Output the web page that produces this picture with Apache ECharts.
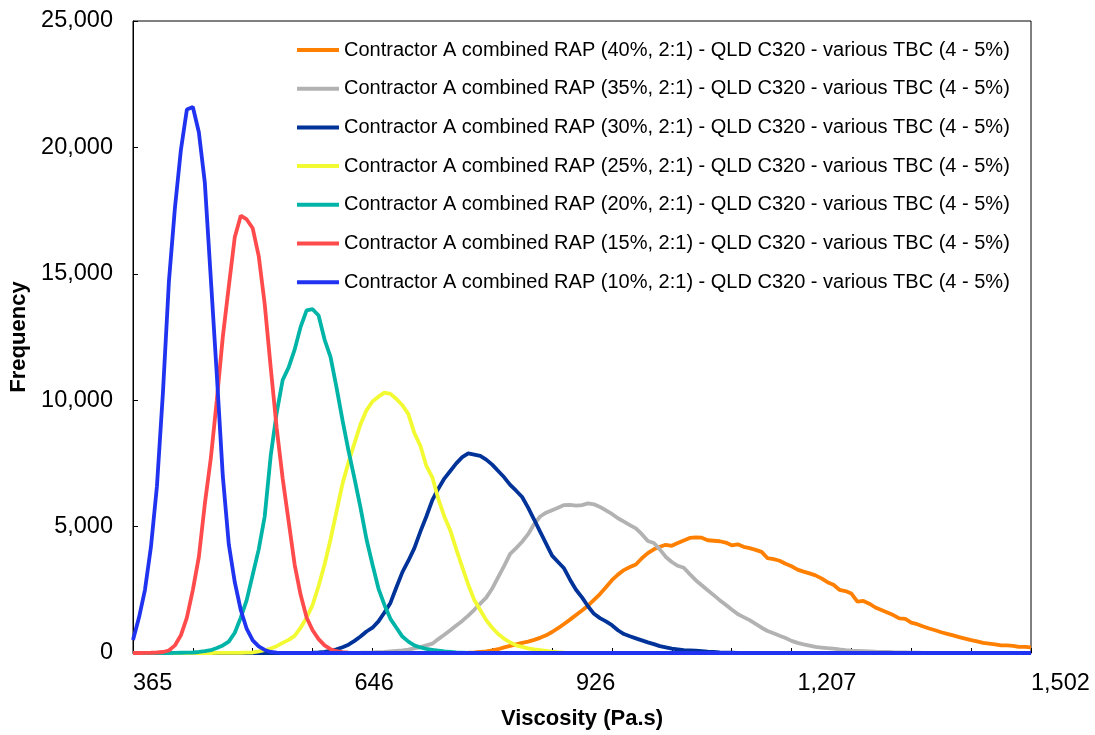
<!DOCTYPE html>
<html>
<head>
<meta charset="utf-8">
<script src="https://cdn.jsdelivr.net/npm/echarts@6/dist/echarts.min.js"></script>
<style>
html,body{margin:0;padding:0;background:#fff;}
#chart{width:1095px;height:735px;}
</style>
</head>
<body>
<div id="chart"></div>
<script>
// X axis: 151 viscosity bins from 365 to 1502 Pa.s
var binCount = 151;
var viscosityMin = 365;
var viscosityMax = 1502;
var tickIndex = [0, 37, 74, 111, 150];
var tickLabels = ['365', '646', '926', '1,207', '1,502'];
var categories = [];
for (var k = 0; k < binCount; k++) {
  categories.push(Math.round(viscosityMin + k * (viscosityMax - viscosityMin) / (binCount - 1)));
}

var seriesNames = [
  'Contractor A combined RAP (40%, 2:1) - QLD C320 - various TBC (4 - 5%)',
  'Contractor A combined RAP (35%, 2:1) - QLD C320 - various TBC (4 - 5%)',
  'Contractor A combined RAP (30%, 2:1) - QLD C320 - various TBC (4 - 5%)',
  'Contractor A combined RAP (25%, 2:1) - QLD C320 - various TBC (4 - 5%)',
  'Contractor A combined RAP (20%, 2:1) - QLD C320 - various TBC (4 - 5%)',
  'Contractor A combined RAP (15%, 2:1) - QLD C320 - various TBC (4 - 5%)',
  'Contractor A combined RAP (10%, 2:1) - QLD C320 - various TBC (4 - 5%)'
];
var seriesColors = ['#FF8000', '#B2B2B2', '#003399', '#F2FA32', '#00B4A8', '#FF4B4B', '#1F33F0'];

var rap40 = [
0,0,0,0,0,0,0,0,0,0,
0,0,0,0,0,0,0,0,0,0,
0,0,0,0,0,0,0,0,0,0,
0,0,0,0,0,0,0,0,0,0,
0,0,0,0,0,0,0,0,0,0,
0,0,0,0,0,5,10,20,40,60,
100,150,220,280,340,400,450,520,600,700,
830,980,1150,1320,1500,1680,1870,2100,2330,2600,
2880,3100,3280,3400,3500,3750,3950,4100,4200,4280,
4240,4350,4450,4550,4570,4560,4460,4440,4420,4370,
4260,4300,4200,4150,4080,4000,3750,3710,3650,3530,
3430,3300,3220,3150,3070,2950,2800,2700,2500,2450,
2350,2030,2060,1950,1800,1700,1600,1500,1370,1350,
1200,1140,1050,970,900,820,760,700,630,570,
510,460,400,370,340,300,300,280,240,240,
220];

var rap35 = [
0,0,0,0,0,0,0,0,0,0,
0,0,0,0,0,0,0,0,0,0,
0,0,0,0,0,0,0,0,0,0,
0,0,0,0,0,2,4,6,10,15,
20,30,40,60,80,100,130,180,230,300,
370,550,720,900,1090,1270,1480,1710,1950,2190,
2550,3000,3450,3920,4150,4400,4700,5100,5400,5550,
5650,5750,5850,5860,5830,5850,5920,5880,5780,5640,
5500,5330,5200,5060,4930,4700,4430,4350,4100,3800,
3600,3450,3370,3120,2880,2680,2480,2290,2090,1910,
1720,1540,1420,1300,1150,1000,870,780,680,590,
480,400,340,290,240,215,190,175,140,110,
90,80,70,60,50,45,40,30,25,20,
15,10,5,0,0,0,0,0,0,0,
0,0,0,0,0,0,0,0,0,0,
0];

var rap30 = [
0,0,0,0,0,0,0,0,0,0,
0,0,0,0,0,0,0,0,0,0,
0,0,0,0,0,0,2,3,5,8,
10,20,40,80,150,230,330,480,650,850,
1000,1250,1600,1980,2600,3200,3650,4150,4800,5400,
6050,6500,6900,7200,7500,7750,7900,7850,7800,7650,
7450,7200,6950,6650,6420,6170,5750,5280,4800,4330,
3850,3600,3350,2900,2500,2200,1850,1550,1380,1250,
1100,900,750,660,580,500,420,350,270,220,
170,140,110,100,90,70,50,40,25,15,
10,0,0,0,0,0,0,0,0,0,
0,0,0,0,0,0,0,0,0,0,
0,0,0,0,0,0,0,0,0,0,
0,0,0,0,0,0,0,0,0,0,
0,0,0,0,0,0,0,0,0,0,
0];

var rap25 = [
0,0,0,0,0,0,0,0,0,0,
0,0,0,0,2,4,6,8,10,15,
20,60,110,180,270,400,520,680,1000,1400,
1900,2650,3500,4500,5600,6700,7550,8300,9050,9600,
9950,10140,10300,10250,10050,9800,9450,8700,8200,7400,
6950,6100,5400,4850,4100,3400,2700,2100,1700,1300,
1000,750,560,420,300,240,180,140,110,80,
50,30,15,5,0,0,0,0,0,0,
0,0,0,0,0,0,0,0,0,0,
0,0,0,0,0,0,0,0,0,0,
0,0,0,0,0,0,0,0,0,0,
0,0,0,0,0,0,0,0,0,0,
0,0,0,0,0,0,0,0,0,0,
0,0,0,0,0,0,0,0,0,0,
0,0,0,0,0,0,0,0,0,0,
0];

var rap20 = [
0,0,0,0,0,0,0,5,10,15,
20,40,70,110,200,300,450,800,1400,2100,
3100,4100,5400,7800,9500,10800,11300,12000,12900,13550,
13600,13350,12400,11700,10500,9200,8000,6900,5750,4500,
3500,2550,1900,1350,1000,650,450,300,220,160,
120,90,60,40,20,10,0,0,0,0,
0,0,0,0,0,0,0,0,0,0,
0,0,0,0,0,0,0,0,0,0,
0,0,0,0,0,0,0,0,0,0,
0,0,0,0,0,0,0,0,0,0,
0,0,0,0,0,0,0,0,0,0,
0,0,0,0,0,0,0,0,0,0,
0,0,0,0,0,0,0,0,0,0,
0,0,0,0,0,0,0,0,0,0,
0,0,0,0,0,0,0,0,0,0,
0];

var rap15 = [
0,0,5,10,20,40,100,300,700,1400,
2500,3800,5900,7700,10000,12500,14500,16450,17300,17150,
16800,15700,13800,11300,8900,6900,5200,3500,2300,1400,
900,550,300,150,70,30,10,0,0,0,
0,0,0,0,0,0,0,0,0,0,
0,0,0,0,0,0,0,0,0,0,
0,0,0,0,0,0,0,0,0,0,
0,0,0,0,0,0,0,0,0,0,
0,0,0,0,0,0,0,0,0,0,
0,0,0,0,0,0,0,0,0,0,
0,0,0,0,0,0,0,0,0,0,
0,0,0,0,0,0,0,0,0,0,
0,0,0,0,0,0,0,0,0,0,
0,0,0,0,0,0,0,0,0,0,
0,0,0,0,0,0,0,0,0,0,
0];

var rap10 = [
510,1400,2500,4200,6600,10300,14700,17600,19900,21500,
21600,20600,18600,14800,11000,7000,4300,2800,1700,950,
500,260,120,40,15,0,0,0,0,0,
0,0,0,0,0,0,0,0,0,0,
0,0,0,0,0,0,0,0,0,0,
0,0,0,0,0,0,0,0,0,0,
0,0,0,0,0,0,0,0,0,0,
0,0,0,0,0,0,0,0,0,0,
0,0,0,0,0,0,0,0,0,0,
0,0,0,0,0,0,0,0,0,0,
0,0,0,0,0,0,0,0,0,0,
0,0,0,0,0,0,0,0,0,0,
0,0,0,0,0,0,0,0,0,0,
0,0,0,0,0,0,0,0,0,0,
0,0,0,0,0,0,0,0,0,0,
0];

var seriesData = [rap40, rap35, rap30, rap25, rap20, rap15, rap10];

var FONT = '"Liberation Sans", Arial, sans-serif';
var chart = echarts.init(document.getElementById('chart'), null, {renderer: 'canvas'});

var series = seriesData.map(function (d, i) {
  return {
    name: seriesNames[i],
    type: 'line',
    data: d,
    symbol: 'none',
    smooth: false,
    lineStyle: {width: 3.8, color: seriesColors[i]},
    itemStyle: {color: seriesColors[i]},
    z: 2 + i,
    animation: false
  };
});

chart.setOption({
  animation: false,
  backgroundColor: '#ffffff',
  textStyle: {fontFamily: FONT},
  grid: {
    left: 133, right: 64, top: 21, bottom: 79,
    show: true, borderColor: '#000', borderWidth: 1, backgroundColor: 'transparent'
  },
  legend: {
    orient: 'vertical',
    left: 292,
    top: 35,
    icon: 'rect',
    itemWidth: 42,
    itemHeight: 4,
    itemGap: 18.7,
    textStyle: {fontFamily: FONT, fontSize: 20, lineHeight: 20, color: '#000'},
    data: seriesNames
  },
  xAxis: {
    type: 'category',
    data: categories,
    boundaryGap: false,
    name: 'Viscosity (Pa.s)',
    nameLocation: 'middle',
    nameGap: 55,
    nameTextStyle: {fontFamily: FONT, fontSize: 22, fontWeight: 'bold', color: '#000'},
    axisLine: {show: true, lineStyle: {color: '#000', width: 1}},
    axisTick: {show: true, inside: true, length: 5, interval: 9, lineStyle: {color: '#000'}},
    axisLabel: {
      interval: function (index) { return tickIndex.indexOf(index) >= 0; },
      formatter: function (value, index) {
        var p = tickIndex.indexOf(index);
        return p >= 0 ? tickLabels[p] : '';
      },
      align: 'left',
      margin: 19,
      fontFamily: FONT, fontSize: 23.5, color: '#000',
      showMaxLabel: true
    },
    splitLine: {show: false}
  },
  yAxis: {
    type: 'value',
    min: 0, max: 25000, interval: 5000,
    name: 'Frequency',
    nameLocation: 'middle',
    nameGap: 100,
    nameTextStyle: {fontFamily: FONT, fontSize: 22, fontWeight: 'bold', color: '#000'},
    axisLine: {show: true, lineStyle: {color: '#000', width: 1}},
    axisTick: {show: true, inside: true, length: 5, lineStyle: {color: '#000'}},
    axisLabel: {
      margin: 20,
      fontFamily: FONT, fontSize: 23.5, color: '#000',
      formatter: function (v) { return v.toLocaleString('en-US'); }
    },
    splitLine: {show: false}
  },
  series: series
});
</script>
</body>
</html>
